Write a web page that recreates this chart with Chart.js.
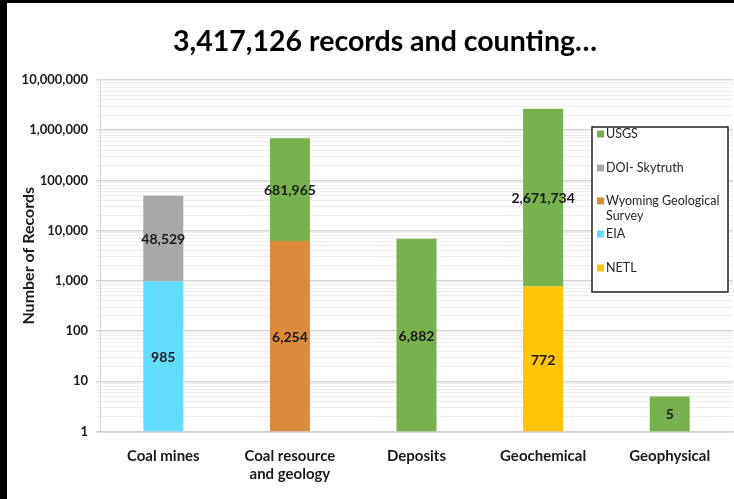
<!DOCTYPE html>
<html>
<head>
<meta charset="utf-8">
<script src="https://cdn.jsdelivr.net/npm/chart.js@4"></script>
<style>
  html, body { margin: 0; padding: 0; background: #fff; }
  #wrap { width: 734px; height: 499px; }
</style>
</head>
<body>
<div id="wrap"><canvas id="recordsChart" width="734" height="499"></canvas></div>
<script>
// categories and series (stack order, bottom to top)
const categories = ["Coal mines", ["Coal resource", "and geology"], "Deposits", "Geochemical", "Geophysical"];
const eiaValues      = [985, null, null, null, null];
const wyomingValues  = [null, 6254, null, null, null];
const netlValues     = [null, null, null, 772, null];
const skytruthValues = [48529, null, null, null, null];
const usgsValues     = [null, 681965, 6882, 2671734, 5];
const yTickValues = [1, 10, 100, 1000, 10000, 100000, 1000000, 10000000];
const chartTitle = "3,417,126 records and counting…";

const colors = {
  usgs: "#77b24e",
  skytruth: "#a8a8a8",
  wyoming: "#dc8a3c",
  eia: "#61dcff",
  netl: "#ffc404"
};

const font = "Lato, 'Open Sans', sans-serif";

// black frame on left/top, white page, title slightly right of centre like the slide
const framePlugin = {
  id: "frame",
  beforeDraw(chart) {
    const c = chart.ctx;
    c.save();
    c.fillStyle = "#000";
    c.fillRect(0, 0, chart.width, chart.height);
    c.fillStyle = "#fff";
    c.fillRect(7, 3, chart.width - 7, chart.height - 3);
    c.restore();
  },
  afterDraw(chart) {
    const c = chart.ctx;
    c.save();
    c.font = "bold 28.5px " + font;
    c.fillStyle = "#000";
    c.textAlign = "center";
    c.textBaseline = "middle";
    c.fillText(chartTitle, 385, 42);
    c.restore();
  }
};

// value labels in the middle of each segment
const valueLabels = {
  id: "valueLabels",
  afterDatasetsDraw(chart) {
    const c = chart.ctx;
    c.save();
    c.font = "bold 14px " + font;
    c.fillStyle = "#1a1a1a";
    c.textAlign = "center";
    c.textBaseline = "middle";
    chart.data.datasets.forEach((ds, i) => {
      const meta = chart.getDatasetMeta(i);
      meta.data.forEach((bar, j) => {
        const v = ds.data[j];
        if (v == null) return;
        c.fillText(v.toLocaleString("en-US"), bar.x, (bar.y + bar.base) / 2 + 1);
      });
    });
    c.restore();
  }
};

// boxed legend inside the plot, top item = top of stack
const boxLegend = {
  id: "boxLegend",
  afterDraw(chart) {
    const c = chart.ctx;
    const x = 592, y = 127, w = 136, h = 165;
    c.save();
    c.fillStyle = "#fff";
    c.fillRect(x, y, w, h);
    c.strokeStyle = "#222";
    c.lineWidth = 1.5;
    c.strokeRect(x, y, w, h);
    const items = [
      { label: ["USGS"], color: colors.usgs, y: 134 },
      { label: ["DOI- Skytruth"], color: colors.skytruth, y: 168 },
      { label: ["Wyoming Geological", "Survey"], color: colors.wyoming, y: 201 },
      { label: ["EIA"], color: colors.eia, y: 234 },
      { label: ["NETL"], color: colors.netl, y: 268 }
    ];
    c.font = "12.5px " + font;
    c.textBaseline = "middle";
    c.textAlign = "left";
    items.forEach(it => {
      c.fillStyle = it.color;
      c.fillRect(x + 5, it.y - 3.5, 7, 7);
      c.fillStyle = "#262626";
      it.label.forEach((line, k) => c.fillText(line, x + 14, it.y + k * 15));
    });
    c.restore();
  }
};

const mkSet = (label, data, color) => ({
  label: label,
  data: data,
  backgroundColor: color,
  borderWidth: 0,
  categoryPercentage: 1,
  barPercentage: 0.316
});

new Chart("recordsChart", {
  type: "bar",
  data: {
    labels: categories,
    datasets: [
      mkSet("EIA", eiaValues, colors.eia),
      mkSet("Wyoming Geological Survey", wyomingValues, colors.wyoming),
      mkSet("NETL", netlValues, colors.netl),
      mkSet("DOI- Skytruth", skytruthValues, colors.skytruth),
      mkSet("USGS", usgsValues, colors.usgs)
    ]
  },
  options: {
    responsive: false,
    animation: false,
    layout: { padding: { left: 7, top: 80, right: 1, bottom: 8 } },
    plugins: {
      legend: { display: false },
      tooltip: { enabled: false },
      title: { display: false }
    },
    scales: {
      x: {
        stacked: true,
        grid: { display: false },
        border: { color: "#d0d0d0", width: 1.5 },
        ticks: {
          color: "#1a1a1a",
          font: { family: font, size: 15, weight: "bold", lineHeight: 1.25 },
          padding: 7,
          maxRotation: 0,
          autoSkip: false
        }
      },
      y: {
        type: "logarithmic",
        stacked: true,
        min: 1,
        max: 10000000,
        afterFit(scale) { scale.width = 93; },
        afterBuildTicks(scale) {
          const t = [];
          yTickValues.forEach((v, i) => {
            t.push({ value: v, major: true });
            if (i < yTickValues.length - 1) {
              for (let m = 2; m <= 9; m++) t.push({ value: v * m, major: false });
            }
          });
          scale.ticks = t;
        },
        grid: {
          color: ctx => (ctx.tick && ctx.tick.major ? "#d6d6d6" : "#eeeeee"),
          lineWidth: ctx => (ctx.tick && ctx.tick.major ? 1.5 : 1),
          tickLength: 4
        },
        border: { color: "#d6d6d6" },
        ticks: {
          autoSkip: false,
          color: "#1a1a1a",
          font: { family: font, size: 13, weight: "bold" },
          padding: 8,
          callback: function (value) {
            return yTickValues.includes(value) ? value.toLocaleString("en-US") : "";
          }
        },
        title: {
          display: true,
          text: "Number of Records",
          color: "#1a1a1a",
          font: { family: font, size: 16, weight: 700 },
          padding: { top: 12, bottom: 0 }
        }
      }
    }
  },
  plugins: [framePlugin, valueLabels, boxLegend]
});
</script>
</body>
</html>
